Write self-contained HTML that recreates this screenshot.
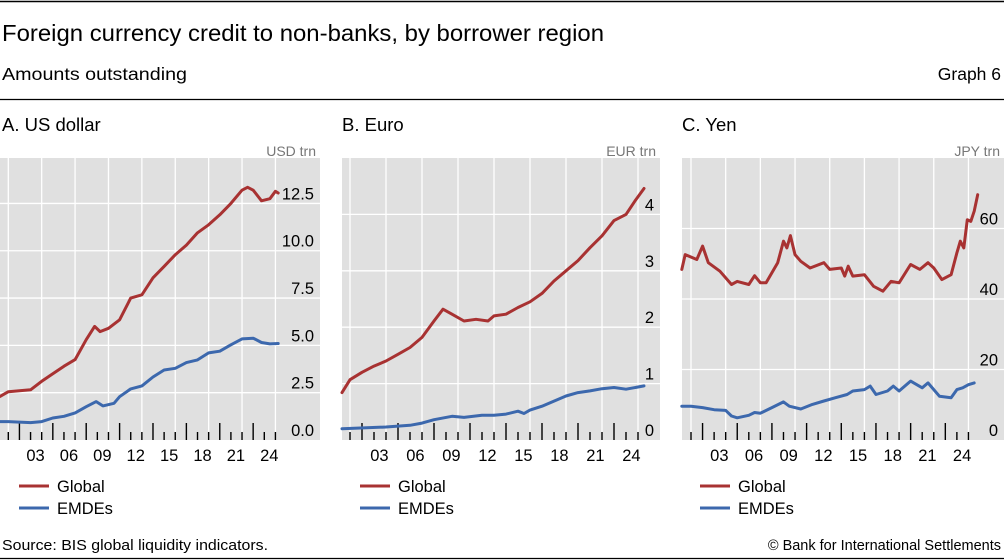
<!DOCTYPE html>
<html><head><meta charset="utf-8">
<style>
body{margin:0;width:1004px;height:560px;background:#fff;overflow:hidden;font-family:"Liberation Sans",sans-serif;}
svg{display:block}
</style></head>
<body>
<svg id="chart" width="1004" height="560" xmlns="http://www.w3.org/2000/svg">
<line x1="0" y1="1.5" x2="1004" y2="1.5" stroke="#000" stroke-width="1.5"/>
<text x="2" y="41" font-size="23" fill="#000" textLength="602" lengthAdjust="spacingAndGlyphs">Foreign currency credit to non-banks, by borrower region</text>
<text x="2" y="80" font-size="17.5" fill="#000" textLength="185" lengthAdjust="spacingAndGlyphs">Amounts outstanding</text>
<text x="1001" y="80" font-size="17.5" fill="#000" text-anchor="end">Graph 6</text>
<line x1="0" y1="99.5" x2="1004" y2="99.5" stroke="#000" stroke-width="1.2"/>
<text x="2" y="544" dy="6" font-size="14.5" fill="#000" textLength="266" lengthAdjust="spacingAndGlyphs">Source: BIS global liquidity indicators.</text>
<text x="1001" y="544" dy="6" font-size="14.5" fill="#000" text-anchor="end">© Bank for International Settlements</text>
<line x1="0" y1="558.5" x2="1004" y2="558.5" stroke="#000" stroke-width="1.2"/>
<g id="panels"></g>
</svg>
<script>
// Panel A: US dollar
const usdYears   = [1999.25,2000,2001,2002,2003,2004,2005,2006,2007,2007.75,2008.25,2009,2010,2011,2012,2013,2014,2015,2016,2017,2018,2019,2020,2021,2021.5,2022,2022.75,2023.5,2024,2024.25];
const usdGlobal  = [2.3,2.55,2.6,2.65,3.1,3.5,3.9,4.25,5.3,6.0,5.73,5.9,6.35,7.5,7.67,8.57,9.17,9.79,10.3,10.95,11.37,11.9,12.5,13.2,13.35,13.2,12.64,12.75,13.14,13.05];
const usdEmYears = [1999.25,2000,2002,2003,2004,2005,2006,2007,2007.9,2008.5,2009.5,2010,2011,2012,2013,2014,2015,2016,2017,2018,2019,2020,2021,2022,2022.75,2023.5,2024.25];
const usdEmdes   = [0.97,0.97,0.92,0.97,1.16,1.25,1.43,1.76,2.03,1.8,1.94,2.29,2.7,2.86,3.33,3.7,3.79,4.09,4.23,4.6,4.69,5.03,5.34,5.38,5.15,5.08,5.1];
const usdTicks   = [0,2.5,5,7.5,10,12.5];
const usdTickLabels = ["0.0","2.5","5.0","7.5","10.0","12.5"];
// Panel B: Euro
const eurYears   = [1999.33,2000,2001,2002,2003,2004,2005,2006,2007,2007.75,2008.5,2009.5,2010.5,2011.5,2012,2013,2014,2015,2016,2017,2018,2019,2020,2021,2022,2023,2023.75,2024.5];
const eurGlobal  = [0.84,1.07,1.2,1.31,1.4,1.52,1.64,1.82,2.11,2.32,2.23,2.11,2.14,2.11,2.2,2.23,2.35,2.45,2.6,2.82,3.0,3.18,3.41,3.62,3.89,4.0,4.24,4.46];
const eurEmYears = [1999.33,2003,2005,2006,2007,2008.5,2009.5,2011,2012,2013,2014,2014.5,2015,2016,2017,2018,2019,2020,2021,2022,2023,2024.5];
const eurEmdes   = [0.2,0.23,0.26,0.3,0.36,0.42,0.4,0.44,0.44,0.46,0.51,0.47,0.53,0.6,0.69,0.78,0.84,0.87,0.91,0.93,0.9,0.96];
const eurTicks   = [0,1,2,3,4];
const eurTickLabels = ["0","1","2","3","4"];
// Panel C: Yen
const jpyYears   = [1999.2,1999.5,2000.5,2001,2001.5,2002.5,2003.5,2004,2005,2005.5,2006,2006.5,2007.5,2008,2008.3,2008.6,2009,2009.5,2010.3,2011.5,2012,2013,2013.3,2013.6,2014,2015,2015.8,2016.6,2017.3,2018,2019,2019.8,2020.5,2021,2021.7,2022.5,2023,2023.3,2023.6,2023.9,2024.2,2024.5,2024.8];
const jpyGlobal  = [48.4,52.6,51.2,55,50.3,47.9,44.1,45,44.1,46.6,44.6,44.6,50.3,56.4,54.5,58,52.6,50.7,48.8,50.3,48.4,48.8,46.5,49.3,46.5,46.9,43.6,42.2,45,44.6,49.8,48.4,50.3,48.8,45.5,46.9,53.1,56.4,54.5,62.5,62,64.9,69.6];
const jpyEmYears = [1999.2,2000,2001,2002,2003,2003.5,2004,2005,2005.5,2006,2007,2008,2008.5,2009.5,2010.5,2011.5,2012.5,2013.5,2014,2015,2015.5,2016,2017,2017.5,2018,2019,2020,2020.5,2021.5,2022.5,2023,2023.5,2024,2024.5];
const jpyEmdes   = [9.6,9.6,9.2,8.6,8.4,6.8,6.3,7.0,7.8,7.6,9.2,10.8,9.6,8.8,10.1,11.05,12.0,12.9,13.9,14.3,15.3,12.9,13.9,15.3,13.9,16.7,14.8,16.2,12.4,12.0,14.3,14.8,15.7,16.2];
const jpyTicks   = [0,20,40,60];
const jpyTickLabels = ["0","20","40","60"];
const yearLabels = ["03","06","09","12","15","18","21","24"];
const yearLabelVals = [2003,2006,2009,2012,2015,2018,2021,2024];

const NS = "http://www.w3.org/2000/svg";
const root = document.getElementById('panels');
function mk(tag, attrs, parent){ const e=document.createElementNS(NS,tag); for(const k in attrs) e.setAttribute(k,attrs[k]); (parent||root).appendChild(e); return e; }

const panels = [
 {key:'usd', title:'A. US dollar', unit:'USD trn', gx0:0, gx1:320, x2000:8.3, pxYear:11.13, yMax:14.9, ticks:usdTicks, tl:usdTickLabels,
  g:[usdYears,usdGlobal], e:[usdEmYears,usdEmdes], titleX:2, legX:19},
 {key:'eur', title:'B. Euro', unit:'EUR trn', gx0:342, gx1:660, x2000:350, pxYear:12.0, yMax:5.0, ticks:eurTicks, tl:eurTickLabels,
  g:[eurYears,eurGlobal], e:[eurEmYears,eurEmdes], titleX:342, legX:360},
 {key:'jpy', title:'C. Yen', unit:'JPY trn', gx0:682, gx1:1004, x2000:691, pxYear:11.56, yMax:80, ticks:jpyTicks, tl:jpyTickLabels,
  g:[jpyYears,jpyGlobal], e:[jpyEmYears,jpyEmdes], titleX:682, legX:700}
];
const TOP=158, BOT=440;

panels.forEach(p=>{
  const g = mk('g',{});
  
  
  const xs = yr => p.x2000 + (yr-2000)*p.pxYear;
  const ys = v => BOT - v/p.yMax*(BOT-TOP);
  const t = mk('text',{x:p.titleX, y:131, 'font-size':18.5, fill:'#000'}, g); t.textContent=p.title;
  
  
  const u = mk('text',{x:p.gx1-4, y:156, 'font-size':14, fill:'#777', 'text-anchor':'end'}, g); u.textContent=p.unit;
  
  
  const bg = mk('rect',{x:p.gx0, y:TOP, width:p.gx1-p.gx0, height:BOT-TOP, fill:'#e0e0e0'}, g);
  
  
  // vertical gridlines
  for(let yr=2000; yr<=2024; yr+=3){
    const l = mk('line',{x1:xs(yr), x2:xs(yr), y1:TOP, y2:BOT, stroke:'#fff', 'stroke-width':1.3}, g);
    
    
  }
  // horizontal gridlines + labels
  p.ticks.forEach((v,i)=>{
    if(v>0){
      const l = mk('line',{x1:p.gx0, x2:p.gx1, y1:ys(v), y2:ys(v), stroke:'#fff', 'stroke-width':1.3}, g);
      
      
    }
    const tx = mk('text',{x:p.gx1-6, y:ys(v)-4, 'font-size':16.5, fill:'#000', 'text-anchor':'end'}, g);
    tx.textContent = p.tl[i];
    
    
  });
  // x ticks
  for(let yr=2000; yr<=2024; yr++){
    const major = (yr%3===0);
    const l = mk('line',{x1:xs(yr), x2:xs(yr), y1:major?423:432, y2:BOT, stroke:'#000', 'stroke-width':1.4}, g);
    
    
  }
  yearLabelVals.forEach((yr,i)=>{
    const tx = mk('text',{x:xs(yr-0.55), y:461, 'font-size':16.5, fill:'#000', 'text-anchor':'middle'}, g);
    tx.textContent = yearLabels[i];
    
    
  });
  const line = (arr,color,name)=>{
    const d = arr[0].map((yr,i)=>(i?'L':'M')+xs(yr).toFixed(1)+','+ys(arr[1][i]).toFixed(1)).join(' ');
    const pth = mk('path',{d:d, fill:'none', stroke:color, 'stroke-width':3, 'stroke-linejoin':'round', 'stroke-linecap':'round'}, g);
    
    
  };
  line(p.e,'#3c68ad','series-emdes');
  line(p.g,'#a83232','series-global');
  // legend
  [['Global','#a83232',486],['EMDEs','#3c68ad',508]].forEach(([lab,c,yy])=>{
    const lg = mk('g',{}, g);
    
    
    mk('line',{x1:p.legX, x2:p.legX+30, y1:yy, y2:yy, stroke:c, 'stroke-width':3}, lg);
    const tx = mk('text',{x:p.legX+38, y:yy+6, 'font-size':16.5, fill:'#000'}, lg);
    tx.textContent = lab;
  });
});
</script>
</body></html>
